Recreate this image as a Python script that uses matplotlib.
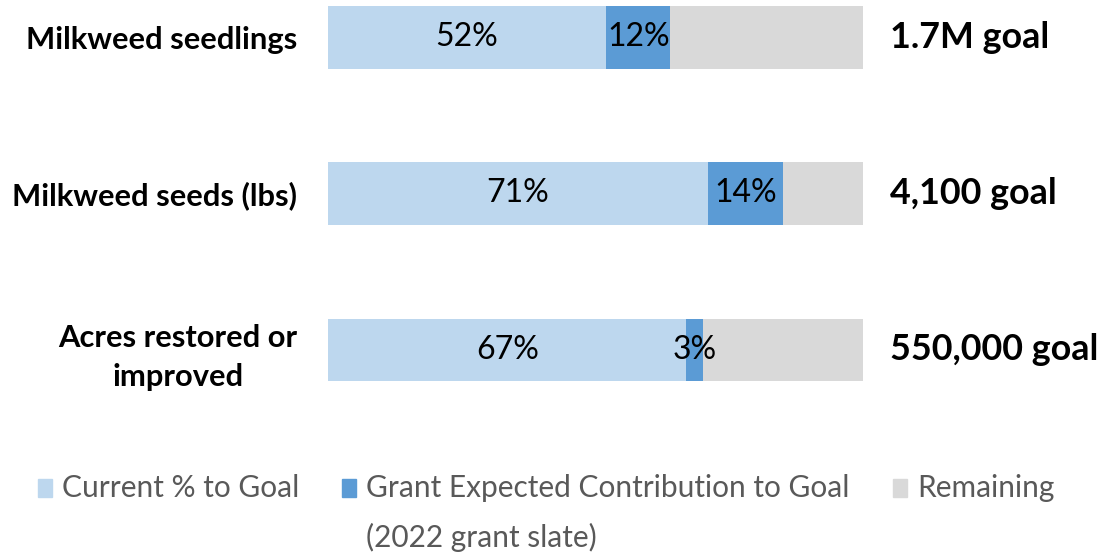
import matplotlib
matplotlib.use("Agg")
import matplotlib.pyplot as plt
from matplotlib.patches import Rectangle

# ---- data ----
categories = ["Milkweed seedlings", "Milkweed seeds (lbs)", "Acres restored or\nimproved"]
current = [52, 71, 67]
grant = [12, 14, 3]
remaining = [100 - c - g for c, g in zip(current, grant)]
goals = ["1.7M goal", "4,100 goal", "550,000 goal"]
series_names = ["Current % to Goal", "Grant Expected Contribution to Goal", "Remaining"]
grant_note = "(2022 grant slate)"

# ---- palette ----
C_CUR = "#bdd7ee"
C_GRANT = "#5b9bd5"
C_REM = "#d9d9d9"
LEG_TXT = "#595959"
FONT = ["Lato", "DejaVu Sans"]

W, H = 1115, 554
plt.rcParams["font.family"] = FONT

fig = plt.figure(figsize=(W / 100, H / 100), dpi=100)
# axes placed by pixel box: bars span x 328..863, y 6..381
ax = fig.add_axes([328 / W, (H - 381) / H, 535 / W, 375 / H])

ypos = list(range(len(categories)))
ax.barh(ypos, current, height=0.4, color=C_CUR)
ax.barh(ypos, grant, left=current, height=0.4, color=C_GRANT)
ax.barh(ypos, remaining, left=[c + g for c, g in zip(current, grant)],
        height=0.4, color=C_REM)

ax.set_xlim(0, 100)
ax.set_ylim(2.2, -0.2)
ax.set_xticks([])
ax.set_yticks(ypos)
ax.set_yticklabels(categories, fontsize=22.2, fontweight="bold",
                   multialignment="center", linespacing=1.45)
ax.tick_params(axis="y", length=0, pad=22)
for s in ax.spines.values():
    s.set_visible(False)

for i in ypos:
    ax.text(current[i] / 2, i, f"{current[i]}%", ha="center", va="center",
            fontsize=23)
    ax.text(current[i] + grant[i] / 2, i, f"{grant[i]}%", ha="center",
            va="center", fontsize=23)
    ax.text(105, i, goals[i], ha="left", va="center", fontsize=25.8,
            fontweight="bold")


# ---- legend (drawn by hand so the wrapped label hangs below its entry) ----
def px(x, y):
    return x / W, 1 - y / H


leg = [(C_CUR, 38, series_names[0]),
       (C_GRANT, 342, series_names[1]),
       (C_REM, 893, series_names[2])]
for col, x0, lab in leg:
    fx, fy = px(x0, 497)
    fig.patches.append(Rectangle((fx, fy), 14 / W, 18 / H, color=col,
                                 transform=fig.transFigure, figure=fig))
    tx, ty = px(x0 + 24, 488)
    fig.text(tx, ty, lab, ha="left", va="center", fontsize=21.5, color=LEG_TXT)
tx, ty = px(342 + 24, 537)
fig.text(tx, ty, grant_note, ha="left", va="center", fontsize=21.5, color=LEG_TXT)

fig.savefig("out.png", dpi=100)
